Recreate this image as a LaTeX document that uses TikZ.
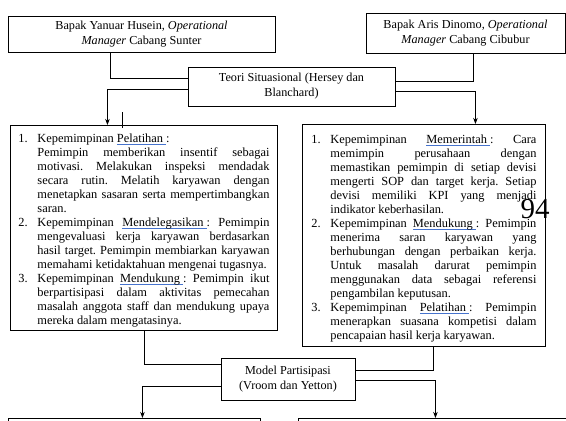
\documentclass[tikz,border=0pt]{standalone}
\usepackage{fontspec}
\setmainfont{Liberation Serif}
\usetikzlibrary{arrows.meta}

\definecolor{garisbiru}{RGB}{70,115,205}
\newsavebox{\kotakgaris}
\newcommand{\garis}[1]{\sbox{\kotakgaris}{#1}\rlap{\color{garisbiru}\rule[-2.4pt]{\wd\kotakgaris}{0.9pt}}\usebox{\kotakgaris}}
\newcommand{\butir}[2]{\par\frenchspacing\hyphenpenalty=10000\tolerance=9999\noindent\hangindent=19pt\hangafter=1\makebox[19pt][l]{#1}#2\par}

\begin{document}
\begin{tikzpicture}[x=1pt, y=-1pt, >=Stealth,
    kotak/.style={draw, line width=0.9pt, align=center, inner sep=2pt, font=\fontsize{12.2}{15}\selectfont},
    daftar/.style={draw, line width=0.9pt, anchor=north west, inner ysep=3pt, align=justify,
      font=\fontsize{12.4}{14}\selectfont},
    penghubung/.style={line width=0.7pt},
    panah/.style={penghubung, ->}]
    \useasboundingbox (0,0) rectangle (566,421);

    % manajer kedua cabang
    \node[kotak, minimum width=267pt, minimum height=36pt] (yanuar) at (141.5,34)
      {Bapak Yanuar Husein, \emph{Operational}\\ \emph{Manager} Cabang Sunter};
    \node[kotak, minimum width=199pt, minimum height=40pt] (aris) at (465.5,33)
      {Bapak Aris Dinomo, \emph{Operational}\\ \emph{Manager} Cabang Cibubur};

    % teori situasional
    \node[kotak, minimum width=207pt, minimum height=39pt] (teori) at (291.5,86.5)
      {Teori Situasional (Hersey dan\\ Blanchard)};

    % daftar kepemimpinan Sunter
    \node[daftar, text width=251pt, inner xsep=8pt, minimum height=202pt] (kiri) at (10,125) {%
      \butir{1.}{Kepemimpinan \garis{Pelatihan\ }:\newline Pemimpin memberikan insentif sebagai\linebreak motivasi. Melakukan inspeksi mendadak\linebreak secara rutin. Melatih karyawan dengan\linebreak menetapkan sasaran serta mempertimbangkan\linebreak saran.}
      \butir{2.}{Kepemimpinan \garis{Mendelegasikan\ }: Pemimpin\linebreak mengevaluasi kerja karyawan berdasarkan\linebreak hasil target. Pemimpin membiarkan karyawan\linebreak memahami ketidaktahuan mengenai tugasnya.}
      \butir{3.}{Kepemimpinan \garis{Mendukung\ }: Pemimpin ikut\linebreak berpartisipasi dalam aktivitas pemecahan\linebreak masalah anggota staff dan mendukung upaya\linebreak mereka dalam mengatasinya.}};

    % daftar kepemimpinan Cibubur
    \node[daftar, text width=225pt, inner xsep=9pt, minimum height=222pt] (kanan) at (302,124) {%
      \butir{1.}{Kepemimpinan \garis{Memerintah\ }: Cara\linebreak memimpin perusahaan dengan\linebreak memastikan pemimpin di setiap devisi\linebreak mengerti SOP dan target kerja. Setiap\linebreak devisi memiliki KPI yang menjadi\linebreak indikator keberhasilan.}
      \butir{2.}{Kepemimpinan \garis{Mendukung\ }: Pemimpin\linebreak menerima saran karyawan yang\linebreak berhubungan dengan perbaikan kerja.\linebreak Untuk masalah darurat pemimpin\linebreak menggunakan data sebagai referensi\linebreak pengambilan keputusan.}
      \butir{3.}{Kepemimpinan \garis{Pelatihan\ }: Pemimpin\linebreak menerapkan suasana kompetisi dalam\linebreak pencapaian hasil kerja karyawan.}};

    % model partisipasi
    \node[kotak, minimum width=134pt, minimum height=42pt] (model) at (288,379)
      {Model Partisipasi\\ (Vroom dan Yetton)};

    % kotak bawah (terpotong)
    \node[draw, line width=0.9pt, anchor=north west, minimum width=252pt, minimum height=30pt] (bawahkiri) at (8,418) {};
    \node[draw, line width=0.9pt, anchor=north west, minimum width=280pt, minimum height=30pt] (bawahkanan) at (298,418) {};

    % nomor halaman
    \node[font=\fontsize{29}{30}\selectfont] (halaman) at (535,209) {94};

    % garis penghubung atas
    \draw[penghubung] ([xshift=-31.5pt]yanuar.south) |- ([yshift=8.5pt]teori.west);
    \draw[panah] ([yshift=-2.5pt]teori.west) -| ([xshift=-36.5pt]kiri.north);
    \draw[penghubung] ([xshift=7.5pt]aris.south) |- ([yshift=5.5pt]teori.east);
    \draw[panah] ([yshift=-4.5pt]teori.east) -| ([xshift=51.5pt]kanan.north);

    % garis penghubung bawah
    \draw[penghubung] (kiri.south) |- ([yshift=15pt]model.west);
    \draw[panah] ([yshift=-7pt]model.west) -| ([xshift=8pt]bawahkiri.north);
    \draw[penghubung] ([xshift=9pt]kanan.south) |- ([yshift=9pt]model.east);
    \draw[panah] ([yshift=-1pt]model.east) -| ([xshift=-3pt]bawahkanan.north);

    % kursor
    \draw[line width=0.6pt] (122,112) -- (122,128);
\end{tikzpicture}
\end{document}
